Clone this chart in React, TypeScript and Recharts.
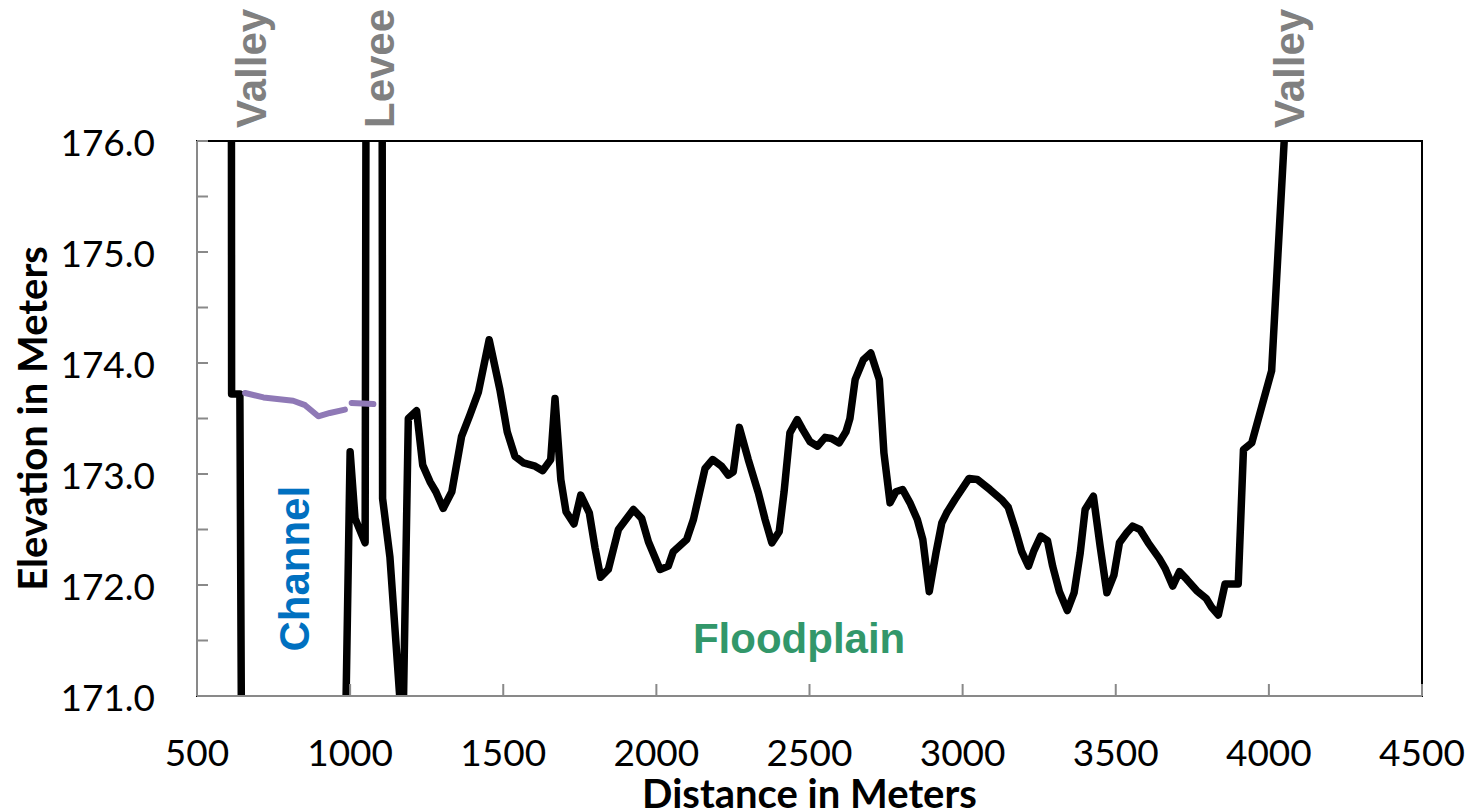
import { LineChart, Line, XAxis, YAxis, ReferenceArea, ReferenceDot } from 'recharts'

// ground profile (distance m, elevation m)
const groundDistance = [
  612, 613, 640, 648, 975, 1000, 1016, 1049, 1053, 1104, 1106, 1130, 1172,
  1190, 1217, 1237, 1261, 1280, 1304, 1332, 1364, 1391, 1419, 1454, 1489, 1513,
  1538, 1566, 1604, 1629, 1655, 1669, 1688, 1705, 1731, 1753, 1781, 1800, 1818,
  1843, 1876, 1925, 1952, 1974, 2012, 2039, 2055, 2099, 2121, 2159, 2184, 2213,
  2235, 2251, 2271, 2300, 2333, 2355, 2377, 2401, 2417, 2436, 2460, 2478, 2502,
  2526, 2551, 2572, 2597, 2619, 2632, 2649, 2676, 2700, 2728, 2743, 2763, 2782,
  2804, 2828, 2852, 2870, 2891, 2913, 2932, 2948, 2975, 3021, 3048, 3089, 3127,
  3149, 3171, 3193, 3215, 3233, 3255, 3277, 3294, 3316, 3342, 3364, 3384, 3400,
  3427, 3449, 3471, 3494, 3512, 3536, 3555, 3579, 3606, 3642, 3661, 3686, 3708,
  3732, 3764, 3795, 3813, 3835, 3857, 3900, 3917, 3944, 3977, 4009, 4031, 4062,
]
const groundElevation = [
  178, 173.72, 173.72, 169, 169, 173.2, 172.6, 172.38, 178, 178, 172.78, 172.25, 170.6,
  173.5, 173.57, 173.08, 172.93, 172.84, 172.69, 172.84, 173.34, 173.53, 173.74, 174.21, 173.76, 173.38,
  173.16, 173.1, 173.07, 173.03, 173.13, 173.68, 172.95, 172.66, 172.55, 172.81, 172.65, 172.33, 172.07,
  172.14, 172.5, 172.68, 172.6, 172.39, 172.14, 172.17, 172.3, 172.41, 172.59, 173.05, 173.13, 173.07,
  172.99, 173.02, 173.42, 173.13, 172.83, 172.59, 172.38, 172.48, 172.84, 173.37, 173.49, 173.4, 173.29,
  173.25, 173.33, 173.32, 173.28, 173.38, 173.5, 173.85, 174.03, 174.09, 173.85, 173.19, 172.74, 172.84,
  172.86, 172.74, 172.59, 172.41, 171.94, 172.29, 172.56, 172.65, 172.77, 172.96, 172.95, 172.86, 172.77,
  172.7, 172.51, 172.3, 172.17, 172.31, 172.44, 172.4, 172.17, 171.94, 171.77, 171.93, 172.29, 172.68,
  172.8, 172.35, 171.93, 172.09, 172.38, 172.47, 172.53, 172.5, 172.38, 172.24, 172.15, 171.99, 172.12,
  172.05, 171.95, 171.88, 171.8, 171.73, 172.01, 172.01, 173.22, 173.28, 173.61, 173.93, 175.05, 176.6,
]

// water surface in the channel (null = gap)
const waterDistance = [657, 717, 814, 853, 896, 934, 983, 994, 1005, 1076]
const waterElevation = [173.73, 173.69, 173.66, 173.62, 173.52, 173.55, 173.58, null, 173.64, 173.63]

const xTicks = [500, 1000, 1500, 2000, 2500, 3000, 3500, 4000, 4500]
const yTicks = [171, 171.5, 172, 172.5, 173, 173.5, 174, 174.5, 175, 175.5, 176]

const ground = groundDistance.map((x, i) => ({ x, y: groundElevation[i] }))
const water = waterDistance.map((x, i) => ({ x, y: waterElevation[i] }))

const AXIS = '#898989'
const TICK_FONT = 'Lato, "Open Sans", sans-serif'
const NOTE_FONT = '"Liberation Sans", Arial, sans-serif'

// eslint-disable-next-line @typescript-eslint/no-explicit-any
function YTick({ x, y, payload }: any) {
  const v = payload.value as number
  return (
    <g>
      <line x1={x} x2={x + 11} y1={y} y2={y} stroke={AXIS} strokeWidth={2} />
      {Number.isInteger(v) && (
        <text x={x - 42} y={y + 15} textAnchor="end" fontSize={37} fontFamily={TICK_FONT} fill="#000">
          {v.toFixed(1)}
        </text>
      )}
    </g>
  )
}

// eslint-disable-next-line @typescript-eslint/no-explicit-any
function XTick({ x, y, payload }: any) {
  return (
    <g>
      <line x1={x} x2={x} y1={y} y2={y - 12} stroke={AXIS} strokeWidth={2} />
      <text x={x} y={y + 70} textAnchor="middle" fontSize={37} fontFamily={TICK_FONT} fill="#000">
        {payload.value}
      </text>
    </g>
  )
}

// rotated note, reading bottom to top
const upNote = (text: string, color: string) =>
  // eslint-disable-next-line @typescript-eslint/no-explicit-any
  ({ viewBox }: any) => (
    <text
      transform={`translate(${viewBox.x},${viewBox.y}) rotate(-90)`}
      fill={color} fontSize={42} fontWeight="bold" fontFamily={NOTE_FONT}
    >
      {text}
    </text>
  )

export default function App() {
  return (
    <div style={{ position: 'absolute', left: 0, top: 0, width: 1476, height: 811, background: '#fff' }}>
      <LineChart width={1476} height={811} margin={{ top: 141, right: 54, bottom: 0, left: 0 }}>
        <ReferenceArea x1={500} x2={4500} y1={171} y2={176} fill="none" stroke="#000" strokeWidth={2} />
        <XAxis
          type="number" dataKey="x" domain={[500, 4500]} ticks={xTicks} height={115}
          allowDataOverflow tickSize={0} tickMargin={0} tickLine={false}
          axisLine={{ stroke: AXIS, strokeWidth: 2 }} tick={<XTick />}
          label={{
            // eslint-disable-next-line @typescript-eslint/no-explicit-any
            content: ({ viewBox }: any) => (
              <text x={viewBox.x + viewBox.width / 2} y={viewBox.y + 112} textAnchor="middle"
                fontSize={40} fontWeight="bold" fontFamily={TICK_FONT} fill="#000">
                Distance in Meters
              </text>
            ),
          }}
        />
        <YAxis
          type="number" domain={[171, 176]} ticks={yTicks} width={197}
          allowDataOverflow tickSize={0} tickMargin={0} tickLine={false}
          axisLine={{ stroke: AXIS, strokeWidth: 2 }} tick={<YTick />}
          label={{
            // eslint-disable-next-line @typescript-eslint/no-explicit-any
            content: ({ viewBox }: any) => (
              <text
                transform={`translate(${viewBox.x + viewBox.width - 150},${viewBox.y + viewBox.height / 2}) rotate(-90)`}
                textAnchor="middle" fontSize={40} fontWeight="bold" fontFamily={TICK_FONT} fill="#000">
                Elevation in Meters
              </text>
            ),
          }}
        />

        <Line data={ground} dataKey="y" stroke="#000" strokeWidth={7.5} strokeLinejoin="round"
          dot={false} activeDot={false} isAnimationActive={false} />
        <Line data={water} dataKey="y" stroke="#8f79b6" strokeWidth={6} strokeLinecap="round"
          strokeLinejoin="round" connectNulls={false} dot={false} activeDot={false} isAnimationActive={false} />

        <ReferenceDot x={725} y={176.117} r={0} ifOverflow="visible" label={{ content: upNote('Valley', '#808080') }} />
        <ReferenceDot x={1143} y={176.117} r={0} ifOverflow="visible" label={{ content: upNote('Levee', '#808080') }} />
        <ReferenceDot x={4115} y={176.117} r={0} ifOverflow="visible" label={{ content: upNote('Valley', '#808080') }} />
        <ReferenceDot x={866} y={171.4} r={0} ifOverflow="visible" label={{ content: upNote('Channel', '#0070c0') }} />
        <ReferenceDot
          x={2466} y={171.39} r={0} ifOverflow="visible"
          label={{
            // eslint-disable-next-line @typescript-eslint/no-explicit-any
            content: ({ viewBox }: any) => (
              <text x={viewBox.x} y={viewBox.y} textAnchor="middle" fill="#32976a"
                fontSize={42} fontWeight="bold" fontFamily={NOTE_FONT}>
                Floodplain
              </text>
            ),
          }}
        />
      </LineChart>
    </div>
  )
}
